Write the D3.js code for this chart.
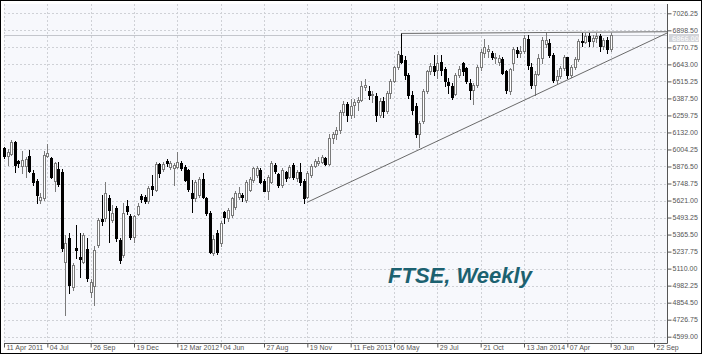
<!DOCTYPE html>
<html>
<head>
<meta charset="utf-8">
<script src="https://cdn.jsdelivr.net/npm/d3@7"></script>
<style>
  body { margin: 0; background: #fff; }
  svg { display: block; }
</style>
</head>
<body>
<div id="chart"></div>
<script>
// weekly FTSE candles, one per week starting 11 Apr 2011
const opens = [
  6013,5955,5970,6058,5915,5880,5878,5957,5830,5767,
  5628,5640,5958,5938,5770,5856,5838,5160,5340,4975,
  5262,5200,5163,5255,4938,4980,5288,5480,5488,5638,
  5475,5565,5325,5213,5583,5505,5350,5520,5658,5650,
  5618,5730,5700,5895,5855,5918,5875,5863,5875,5905,
  5875,5850,5675,5638,5663,5780,5638,5525,5225,5380,
  5300,5533,5488,5513,5575,5645,5663,5625,5700,5775,
  5813,5850,5770,5695,5763,5888,5820,5738,5833,5800,
  5888,5788,5838,5770,5650,5813,5880,5900,5910,5938,
  5898,6089,6121,6154,6284,6347,6263,6335,6360,6378,
  6475,6440,6410,6405,6260,6370,6292,6426,6521,6624,
  6717,6675,6560,6411,6330,6118,6215,6445,6590,6630,
  6600,6662,6605,6510,6480,6420,6565,6650,6617,6500,
  6453,6487,6623,6730,6740,6725,6690,6663,6680,6590,
  6440,6655,6750,6730,6740,6835,6626,6490,6571,6690,
  6795,6800,6712,6527,6557,6615,6695,6561,6625,6685,
  6822,6814,6856,6815,6844,6858,6778,6825,6757
];
const highs = [
  6025,6010,6075,6068,5925,5990,5950,6000,5850,5780,
  5675,5990,6045,5950,5910,5913,5860,5363,5378,5153,
  5438,5378,5378,5340,5030,5280,5490,5662,5760,5660,
  5590,5580,5340,5600,5625,5520,5515,5600,5670,5665,
  5730,5813,5910,5905,5910,5930,5920,5900,5988,5915,
  5885,5860,5775,5775,5795,5825,5650,5540,5360,5400,
  5470,5545,5565,5650,5690,5725,5680,5775,5800,5875,
  5880,5865,5785,5815,5915,5900,5830,5865,5845,5890,
  5900,5850,5900,5785,5840,5895,5935,5950,5965,5950,
  6120,6135,6170,6300,6365,6360,6385,6380,6395,6517,
  6530,6480,6440,6430,6390,6395,6440,6530,6630,6742,
  6875,6705,6580,6440,6350,6215,6460,6600,6650,6713,
  6713,6713,6620,6540,6500,6580,6630,6660,6625,6530,
  6500,6635,6760,6830,6790,6745,6730,6710,6700,6600,
  6615,6775,6770,6780,6860,6865,6650,6590,6720,6850,
  6888,6830,6730,6600,6630,6710,6700,6640,6700,6835,
  6880,6880,6880,6860,6880,6870,6840,6850,6880
];
const lows = [
  5938,5888,5960,5837,5875,5827,5800,5835,5740,5600,
  5605,5625,5950,5790,5690,5730,5240,4763,4928,4950,
  5188,5050,5150,5020,4900,4838,5270,5440,5470,5313,
  5460,5320,5150,5200,5520,5330,5313,5510,5610,5600,
  5605,5663,5690,5800,5840,5880,5860,5738,5865,5850,
  5765,5695,5538,5620,5650,5640,5510,5225,5210,5220,
  5280,5450,5470,5500,5560,5630,5620,5610,5690,5760,
  5800,5750,5690,5630,5750,5830,5720,5725,5770,5790,
  5780,5770,5735,5605,5640,5800,5870,5890,5900,5885,
  5890,6050,6080,6130,6260,6215,6240,6250,6300,6370,
  6450,6380,6360,6217,6245,6250,6280,6393,6510,6605,
  6650,6530,6390,6270,6100,6025,6200,6430,6570,6560,
  6540,6560,6480,6430,6380,6410,6550,6560,6500,6380,
  6345,6470,6600,6700,6700,6680,6650,6640,6570,6430,
  6420,6600,6700,6700,6730,6610,6463,6416,6560,6650,
  6770,6700,6510,6500,6540,6600,6540,6550,6610,6670,
  6780,6800,6780,6780,6810,6740,6760,6730,6740
];
const closes = [
  5955,5987,6062,5888,5905,5925,5930,5845,5762,5662,
  5650,5965,5980,5800,5900,5745,5263,5300,4988,5138,
  5250,5180,5363,5037,5013,5250,5475,5470,5675,5550,
  5528,5340,5175,5525,5543,5350,5505,5583,5633,5618,
  5718,5708,5895,5825,5895,5900,5905,5888,5913,5863,
  5775,5708,5638,5763,5780,5650,5525,5238,5330,5238,
  5450,5495,5550,5638,5675,5680,5645,5763,5780,5863,
  5863,5763,5695,5800,5900,5843,5738,5850,5788,5875,
  5795,5833,5763,5638,5825,5880,5920,5918,5950,5895,
  6089,6121,6154,6284,6347,6263,6330,6360,6378,6483,
  6489,6410,6420,6260,6370,6292,6426,6521,6624,6723,
  6660,6560,6411,6300,6118,6205,6440,6590,6630,6592,
  6650,6600,6517,6490,6400,6560,6610,6590,6517,6450,
  6487,6623,6735,6770,6760,6700,6700,6688,6580,6450,
  6606,6760,6730,6740,6840,6640,6490,6571,6690,6826,
  6826,6712,6527,6557,6615,6695,6561,6625,6685,6822,
  6814,6856,6815,6844,6858,6778,6825,6757,6866
];

// axis labels
const xTickLabels = ["11 Apr 2011", "04 Jul", "26 Sep", "19 Dec", "12 Mar 2012", "04 Jun", "27 Aug", "19 Nov",
                     "11 Feb 2013", "06 May", "29 Jul", "21 Oct", "13 Jan 2014", "07 Apr", "30 Jun", "22 Sep"];
const weeksPerTick = 12;
const yTickLabels = ["7026.25", "6898.50", "6770.75", "6643.00", "6515.25", "6387.50", "6259.75", "6132.00",
                     "6004.25", "5876.50", "5748.75", "5621.00", "5493.25", "5365.50", "5237.75", "5110.00",
                     "4982.25", "4854.50", "4726.75", "4599.00"];

// drawn trend lines: [week index, price]
const resistanceLine = [[110, 6875], [183.6, 6888]];
const supportLine = [[83.9, 5607], [183.6, 6878]];
const lastPrice = closes[closes.length - 1];

const width = 702, height = 354;
const plot = { left: 4, right: 667, top: 4, bottom: 343 };

const svg = d3.select("#chart").append("svg")
    .attr("width", width)
    .attr("height", height)
    .style("font-family", "'DejaVu Sans', sans-serif");

svg.append("rect")
    .attr("width", width).attr("height", height)
    .attr("fill", "#fff");

// plot background
svg.append("rect")
    .attr("x", plot.left).attr("y", plot.top)
    .attr("width", plot.right - plot.left).attr("height", plot.bottom - plot.top)
    .attr("fill", "#f7f8fc");

// week index -> x, price -> y
const x = d3.scaleLinear().domain([0, 183.6]).range([plot.left, plot.right]);
const yVals = yTickLabels.map(Number);
const y = d3.scaleLinear().domain([d3.min(yVals), d3.max(yVals)]).range([336.7, 13.3]);

const xTicks = xTickLabels.map((d, i) => i * weeksPerTick);

// grid
const grid = svg.append("g").attr("stroke", "#cfd1d6").attr("stroke-dasharray", "2,2").attr("stroke-width", 1);
grid.selectAll(".gy").data(yVals).enter().append("line")
    .attr("x1", plot.left).attr("x2", plot.right)
    .attr("y1", d => Math.round(y(d)) + 0.5).attr("y2", d => Math.round(y(d)) + 0.5);
grid.selectAll(".gx").data(xTicks).enter().append("line")
    .attr("x1", d => Math.round(x(d)) + 0.5).attr("x2", d => Math.round(x(d)) + 0.5)
    .attr("y1", plot.top).attr("y2", plot.bottom);

// last price line
svg.append("line")
    .attr("x1", plot.left).attr("x2", plot.right)
    .attr("y1", Math.round(y(lastPrice)) + 0.5).attr("y2", Math.round(y(lastPrice)) + 0.5)
    .attr("stroke", "#c4c6cc").attr("stroke-width", 1);

// candles
const candles = d3.range(opens.length).map(i => ({
    i: i, o: opens[i], h: highs[i], l: lows[i], c: closes[i]
}));

const cg = svg.append("g").selectAll("g").data(candles).enter().append("g");
cg.append("line")
    .attr("x1", d => Math.round(x(d.i)) + 0.5).attr("x2", d => Math.round(x(d.i)) + 0.5)
    .attr("y1", d => Math.round(y(Math.max(d.h, d.o, d.c))))
    .attr("y2", d => Math.round(y(Math.min(d.l, d.o, d.c))) + 1)
    .attr("stroke", d => d.c >= d.o ? "#7a7a7a" : "#000")
    .attr("stroke-width", 1);
cg.append("rect")
    .attr("x", d => Math.round(x(d.i)) - 0.5)
    .attr("y", d => Math.round(y(Math.max(d.o, d.c))) + 0.5)
    .attr("width", 2)
    .attr("height", d => Math.max(1, Math.round(y(Math.min(d.o, d.c))) - Math.round(y(Math.max(d.o, d.c)))))
    .attr("fill", d => d.c >= d.o ? "#fff" : "#000")
    .attr("stroke", d => d.c >= d.o ? "#7a7a7a" : "#000")
    .attr("stroke-width", 1);

// trend lines
const line = d3.line().x(d => x(d[0])).y(d => y(d[1]));
[resistanceLine, supportLine].forEach(pts => {
    svg.append("path")
        .attr("d", line(pts))
        .attr("fill", "none")
        .attr("stroke", "#6a6a6a")
        .attr("stroke-width", 1);
});

// white gutter on the right / below
svg.append("rect").attr("x", plot.right).attr("y", 0).attr("width", width - plot.right).attr("height", height).attr("fill", "#fff");
svg.append("rect").attr("x", 0).attr("y", plot.bottom).attr("width", width).attr("height", height - plot.bottom).attr("fill", "#fff");

// right price axis
const yAxis = d3.axisRight(y)
    .tickValues(yVals)
    .tickSize(4)
    .tickFormat((d, i) => yTickLabels[i]);
svg.append("g")
    .attr("transform", "translate(" + (plot.right + 0.5) + ",0)")
    .call(yAxis)
    .call(g => g.select(".domain").attr("d", "M0," + plot.top + "V" + (plot.bottom + 0.5)).attr("stroke", "#555"))
    .call(g => g.selectAll(".tick line").attr("stroke", "#555"))
    .call(g => g.selectAll(".tick text").attr("x", 5).attr("fill", "#555").style("font-size", "7px"));

// bottom date axis
const xAxis = d3.axisBottom(x)
    .tickValues(xTicks)
    .tickSize(4)
    .tickFormat((d, i) => xTickLabels[i]);
svg.append("g")
    .attr("transform", "translate(0," + (plot.bottom + 0.5) + ")")
    .call(xAxis)
    .call(g => g.select(".domain").attr("d", "M" + plot.left + ",0H" + (plot.right + 0.5)).attr("stroke", "#555"))
    .call(g => g.selectAll(".tick line").attr("stroke", "#555"))
    .call(g => g.selectAll(".tick text")
        .attr("text-anchor", "start").attr("x", 2).attr("y", 2)
        .attr("fill", "#555").style("font-size", "7px"));

// last price tag, just under the 6898.50 label
const tagY = Math.round(y(lastPrice));
svg.append("rect")
    .attr("x", plot.right + 2).attr("y", tagY - 1)
    .attr("width", 30).attr("height", 8)
    .attr("fill", "#d2d4d9");
svg.append("text")
    .attr("x", plot.right + 5).attr("y", tagY + 5.5)
    .attr("fill", "#fff").style("font-size", "6.5px")
    .text(lastPrice.toFixed(2));

// title
svg.append("text")
    .attr("x", 388).attr("y", 283)
    .attr("fill", "#1c6170")
    .style("font-family", "'Liberation Sans', Arial, sans-serif")
    .style("font-size", "22px")
    .style("font-weight", "bold")
    .style("font-style", "italic")
    .text("FTSE, Weekly");

// outer frame
svg.append("rect")
    .attr("x", 0.5).attr("y", 0.5)
    .attr("width", width - 1).attr("height", height - 1)
    .attr("fill", "none").attr("stroke", "#000");
</script>
</body>
</html>
